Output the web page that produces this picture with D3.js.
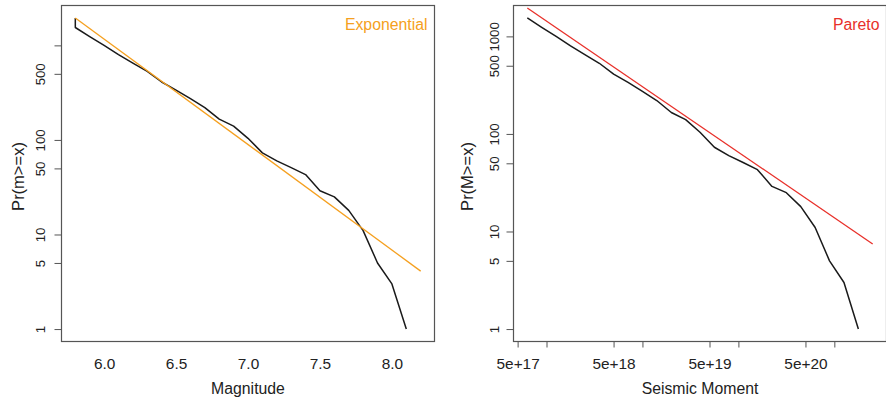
<!DOCTYPE html>
<html>
<head>
<meta charset="utf-8">
<script src="https://cdn.jsdelivr.net/npm/d3@7"></script>
<style>
  html, body { margin: 0; padding: 0; background: #fff; }
  svg { display: block; font-family: "Liberation Sans", Arial, Helvetica, sans-serif; }
</style>
</head>
<body>
<svg id="chart" width="886" height="397"></svg>
<script>
// ---------- data ----------
const magnitudes = [5.8, 5.8, 5.9, 6.0, 6.1, 6.2, 6.3, 6.4, 6.5, 6.6, 6.7, 6.8, 6.9, 7.0, 7.1, 7.2, 7.3, 7.4, 7.5, 7.6, 7.7, 7.8, 7.9, 8.0, 8.1];
const magCounts  = [1950, 1545, 1240, 1000, 800, 650, 530, 410, 337, 273, 220, 166, 140, 104, 73, 60, 51, 43, 29, 25, 18, 11, 5, 3, 1];

const moments = [6.31e17, 8.91e17, 1.26e18, 1.78e18, 2.51e18, 3.55e18, 5.01e18, 7.08e18, 1.0e19, 1.41e19, 2.0e19, 2.82e19, 3.98e19, 5.62e19, 7.94e19, 1.12e20, 1.58e20, 2.24e20, 3.16e20, 4.47e20, 6.31e20, 8.91e20, 1.26e21, 1.78e21];
const momentCounts = [1545, 1240, 1000, 800, 650, 530, 410, 337, 273, 220, 166, 140, 104, 73, 60, 51, 43, 29, 25, 18, 11, 5, 3, 1];

const expFitX = [5.8, 8.2];
const expFitY = [1950, 4.1];
const paretoFitX = [6.31e17, 2.51e21];
const paretoFitY = [1956, 7.45];

const leftYTicks = [1, 5, 10, 50, 100, 500, 1000];
const leftYLabels = ["1", "5", "10", "50", "100", "500", ""];
const leftXTicks = [6.0, 6.5, 7.0, 7.5, 8.0];
const leftXLabels = ["6.0", "6.5", "7.0", "7.5", "8.0"];

const rightYTicks = [1, 5, 10, 50, 100, 500, 1000];
const rightYLabels = ["1", "5", "10", "50", "100", "500", "1000"];
const rightXTicks = [5e17, 1e18, 5e18, 1e19, 5e19, 1e20, 5e20, 1e21];
const rightXLabels = ["5e+17", "", "5e+18", "", "5e+19", "", "5e+20", ""];

// ---------- helpers ----------
const svg = d3.select("#chart");
const TXT = "#222";
const BOX = "#555";
const FS_XTICK = 15.4;
const FS_YTICK = 13.2;
const FS_LAB = 15.8;
const FS_YLAB = 16.5;

function extLog(lo, hi) {
  const a = Math.log10(lo), b = Math.log10(hi), d = (b - a) * 0.04;
  return [Math.pow(10, a - d), Math.pow(10, b + d)];
}
function extLin(lo, hi) {
  const d = (hi - lo) * 0.04;
  return [lo - d, hi + d];
}

function panel(cfg) {
  const g = svg.append("g");
  const { x, y, box } = cfg;

  // y axis
  const yAxis = d3.axisLeft(y).tickValues(cfg.yTicks).tickSize(cfg.yTickLen)
    .tickFormat((d, i) => cfg.yLabels[i]);
  const ya = g.append("g").attr("transform", `translate(${box.l},0)`).call(yAxis);
  ya.select(".domain").remove();
  ya.selectAll(".tick line").attr("stroke", BOX);
  ya.selectAll(".tick text")
    .attr("transform", "rotate(-90)")
    .attr("x", 0).attr("y", -cfg.yLabOff).attr("dy", null)
    .attr("text-anchor", "middle").attr("dominant-baseline", "central")
    .attr("fill", TXT).style("font-size", FS_YTICK + "px");

  // x axis
  const xAxis = d3.axisBottom(x).tickValues(cfg.xTicks).tickSize(cfg.xTickLen)
    .tickFormat((d, i) => cfg.xLabels[i]);
  const xa = g.append("g").attr("transform", `translate(0,${box.b})`).call(xAxis);
  xa.select(".domain").remove();
  xa.selectAll(".tick line").attr("stroke", BOX);
  xa.selectAll(".tick text")
    .attr("y", cfg.xLabOff).attr("dy", null)
    .attr("dominant-baseline", "central")
    .attr("fill", TXT).style("font-size", FS_XTICK + "px");

  // axis titles
  g.append("text").attr("x", (box.l + box.r) / 2).attr("y", 388.5)
    .attr("text-anchor", "middle").attr("dominant-baseline", "central")
    .attr("fill", TXT).style("font-size", FS_LAB + "px").text(cfg.xTitle);
  g.append("text")
    .attr("transform", `translate(${box.l - cfg.yTitleOff},${(box.t + box.b) / 2 + 3}) rotate(-90)`)
    .attr("text-anchor", "middle").attr("dominant-baseline", "central")
    .attr("fill", TXT).style("font-size", FS_YLAB + "px").text(cfg.yTitle);

  // data line
  const line = d3.line().x(d => x(d[0])).y(d => y(d[1]));
  g.append("path").datum(d3.zip(cfg.dataX, cfg.dataY)).attr("d", line)
    .attr("fill", "none").attr("stroke", "#1a1a1a").attr("stroke-width", 1.5)
    .attr("stroke-linejoin", "round");
  // fit line
  g.append("path").datum(d3.zip(cfg.fitX, cfg.fitY)).attr("d", line)
    .attr("fill", "none").attr("stroke", cfg.fitColor).attr("stroke-width", 1.3);

  // legend text
  g.append("text").attr("x", box.r - 7).attr("y", 24.5)
    .attr("text-anchor", "end").attr("dominant-baseline", "central")
    .attr("fill", cfg.fitColor).style("font-size", FS_LAB + "px").text(cfg.legend);

  // box
  g.append("rect").attr("x", box.l).attr("y", box.t)
    .attr("width", box.r - box.l).attr("height", box.b - box.t)
    .attr("fill", "none").attr("stroke", BOX).attr("stroke-width", 1.2);
}

// ---------- left panel ----------
{
  const box = { l: 61.5, r: 434.5, t: 5.5, b: 341.5 };
  const x = d3.scaleLinear()
    .domain(extLin(d3.min(magnitudes.concat(expFitX)), d3.max(magnitudes.concat(expFitX))))
    .range([box.l, box.r]);
  const y = d3.scaleLog()
    .domain(extLog(d3.min(magCounts), d3.max(magCounts)))
    .range([box.b, box.t]);
  panel({ x, y, box,
    yTicks: leftYTicks, yLabels: leftYLabels, yTickLen: 7, yLabOff: 21,
    xTicks: leftXTicks, xLabels: leftXLabels, xTickLen: 0, xLabOff: 22,
    xTitle: "Magnitude", yTitle: "Pr(m>=x)", yTitleOff: 44,
    dataX: magnitudes, dataY: magCounts,
    fitX: expFitX, fitY: expFitY, fitColor: "#F5A020", legend: "Exponential" });
}

// ---------- right panel ----------
{
  const box = { l: 513.5, r: 886.5, t: 5.5, b: 341.5 };
  const x = d3.scaleLog()
    .domain(extLog(d3.min(moments.concat(paretoFitX)), d3.max(moments.concat(paretoFitX))))
    .range([box.l, box.r]);
  const y = d3.scaleLog()
    .domain(extLog(d3.min(momentCounts), d3.max(momentCounts)))
    .range([box.b, box.t]);
  panel({ x, y, box,
    yTicks: rightYTicks, yLabels: rightYLabels, yTickLen: 7, yLabOff: 19,
    xTicks: rightXTicks, xLabels: rightXLabels, xTickLen: 6, xLabOff: 22,
    xTitle: "Seismic Moment", yTitle: "Pr(M>=x)", yTitleOff: 47,
    dataX: moments, dataY: momentCounts,
    fitX: paretoFitX, fitY: paretoFitY, fitColor: "#E8302A", legend: "Pareto" });
}
</script>
</body>
</html>
